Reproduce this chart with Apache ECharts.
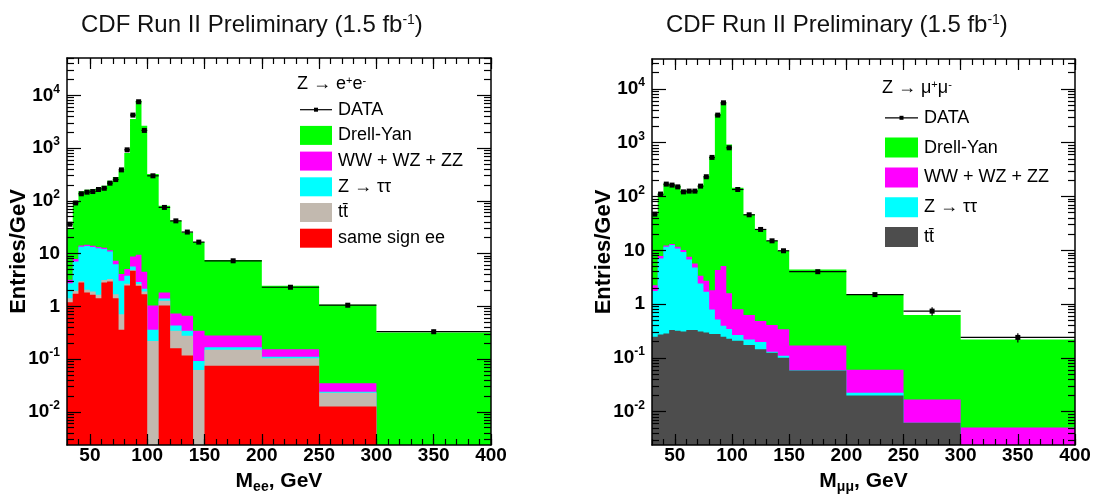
<!DOCTYPE html>
<html>
<head>
<meta charset="utf-8">
<title>CDF Run II Preliminary - Drell-Yan mass spectra</title>
<script src="https://cdn.jsdelivr.net/npm/echarts@6/dist/echarts.min.js"></script>
<style>
    html, body { margin: 0; padding: 0; background: #fff; }
    #chart { width: 1096px; height: 495px; }
</style>
</head>
<body>
<div id="chart"></div>
<script>
// bin edges (GeV), same binning for both channels
var binEdges = [30, 35, 40, 45, 50, 55, 60, 65, 70, 75, 80, 85, 90, 95, 100, 110, 120, 130, 140, 150, 200, 250, 300, 400];

// Z -> ee  (Entries/GeV)
var eeData      = [36, 91, 136, 146, 150, 164, 173, 216, 253, 386, 926, 4220, 7550, 2160, 298, 75, 41.7, 25.6, 16.5, 7.3, 2.3, 1.05, 0.33];
var eeDataErr   = [1.5, 2, 2.5, 2.5, 2.5, 2.6, 2.6, 3, 3.2, 4, 6, 13, 17, 9, 2, 1, 0.9, 0.7, 0.6, 0.17, 0.1, 0.07, 0.03];
var eeDrellYan  = [27.3, 90, 137, 147, 151, 160, 180, 228, 275, 369, 802, 3550, 7910, 2655, 321, 79, 41, 24.3, 16.2, 7.3, 2.3, 1.035, 0.318];
var eeDiboson   = [0.43, 0.8, 0.8, 0.8, 0.8, 0.8, 0.7, 0.6, 1.0, 1.05, 1.3, 3.1, 6.6, 2.35, 0.68, 0.43, 0.298, 0.317, 0.251, 0.112, 0.043, 0.0108, 0];
var eeZtautau   = [1.32, 5.1, 10.5, 11.8, 11.4, 10.9, 9.1, 7.7, 4.6, 2.34, 1.13, 0.85, 0.25, 0.25, 0.14, 0.13, 0.089, 0.066, 0.03, 0.018, 0.007, 0.001, 0];
var eeTtbar     = [0.23, 0.24, 0.17, 0.23, 0.26, 0.22, 0.31, 0.33, 0.27, 0.35, 0.19, 0.15, 0.2, 0.2, 0.22, 0.23, 0.182, 0.16, 0.062, 0.075, 0.029, 0.0105, 0];
var eeSameSign  = [1.2, 1.73, 2.83, 1.83, 1.65, 1.43, 2.83, 2.96, 1.43, 0.36, 2.48, 4.7, 2.45, 1.7, 0, 1.04, 0.161, 0.117, 0, 0.075, 0.075, 0.0126, 0];

// Z -> mumu  (Entries/GeV)
var mmData      = [47, 111, 170, 163, 151, 122, 126, 126, 156, 233, 533, 3260, 5520, 805, 135, 45.7, 24.4, 15, 9.8, 4.0, 1.5, 0.74, 0.24];
var mmDataErr   = [1.7, 2.5, 3, 3, 3, 2.7, 2.7, 2.7, 3, 3.7, 6, 14, 18, 7, 2, 1.1, 0.8, 0.65, 0.5, 0.15, 0.08, 0.13, 0.047];
var mmDrellYan  = [42.75, 103, 160, 157, 148, 118, 123, 125, 157, 230, 548, 3396, 5595, 928, 144, 46.4, 23.7, 14.6, 9.36, 4.23, 1.47, 0.608, 0.215];
var mmDiboson   = [0.5, 0.73, 0.7, 0.6, 0.8, 0.8, 0.83, 0.9, 0.94, 1.02, 1.02, 3.8, 4.7, 1.24, 0.535, 0.405, 0.286, 0.277, 0.229, 0.111, 0.0375, 0.0107, 0.0051];
var mmZtautau   = [1.5, 6.8, 11.3, 12.2, 10.5, 9.0, 6.44, 4.47, 2.11, 1.39, 0.52, 0.24, 0.15, 0.117, 0.057, 0.047, 0.053, 0.006, 0.01, 0.001, 0.0025, 0, 0];
var mmTtbar     = [0.247, 0.273, 0.285, 0.329, 0.32, 0.31, 0.329, 0.329, 0.31, 0.297, 0.277, 0.277, 0.247, 0.226, 0.208, 0.173, 0.144, 0.124, 0.1, 0.058, 0.02, 0.0062, 0];

// axis ticks / labels
var xTickLabels = [50, 100, 150, 200, 250, 300, 350, 400];
var yTickLabels = [0.01, 0.1, 1, 10, 100, 1000, 10000];

// legends
var eeLegendHeader = 'Z \u2192 e{s|+}e{s|-}';
var mmLegendHeader = 'Z \u2192 \u03bc{s|+}\u03bc{s|-}';
var eeLegendNames = ['Drell-Yan', 'WW + WZ + ZZ', 'Z \u2192 \u03c4\u03c4', 'tt\u0304', 'same sign ee'];
var mmLegendNames = ['Drell-Yan', 'WW + WZ + ZZ', 'Z \u2192 \u03c4\u03c4', 'tt\u0304'];

var FONT = '"Liberation Sans", Arial, Helvetica, sans-serif';
var COL_DY = '#00ff00', COL_VV = '#ff00ff', COL_TT = '#00ffff';
var COL_TOP_EE = '#c2b9af', COL_TOP_MM = '#4d4d4d', COL_SS = '#ff0000';

var X_MIN = 30, X_MAX = 400;
var EE_YMIN = 0.00235, EE_YMAX = 51000;
var MM_YMIN = 0.0024, MM_YMAX = 36000;

function addArr(a, b) {
    return a.map(function (v, i) { return v + b[i]; });
}

// minor log ticks 2..9 x 10^n
function minorLogTicks(lo, hi) {
    var out = [];
    for (var e = -4; e <= 5; e++) {
        for (var k = 2; k <= 9; k++) {
            var v = k * Math.pow(10, e);
            if (v > lo && v < hi) out.push(v);
        }
    }
    return out;
}

function logLabel(v) {
    var e = Math.round(Math.log(v) / Math.LN10);
    if (e === 0) return '{b|1}';
    if (e === 1) return '{b|10}';
    return '{b|10}{s|' + e + '}';
}

var labelRich = {
    b: { fontFamily: FONT, fontWeight: 'bold', fontSize: 19, color: '#000', lineHeight: 24 },
    s: { fontFamily: FONT, fontWeight: 'bold', fontSize: 12, color: '#000', lineHeight: 12, verticalAlign: 'top' }
};

function xAxesFor(gMain, gMinor, name) {
    var line = { show: true, onZero: false, lineStyle: { color: '#000', width: 1.5 } };
    return [
        {
            type: 'value', gridIndex: gMain, position: 'bottom', min: X_MIN, max: X_MAX, z: 10,
            axisLine: line,
            axisTick: { inside: true, length: 11, customValues: xTickLabels, lineStyle: { color: '#000', width: 1.2 } },
            axisLabel: { customValues: xTickLabels, margin: 1, color: '#000', fontSize: 19, fontWeight: 'bold', fontFamily: FONT },
            splitLine: { show: false },
            name: name, nameLocation: 'middle', nameGap: 23, nameMoveOverlap: false,
            nameTextStyle: {
                fontFamily: FONT, fontWeight: 'bold', fontSize: 21, color: '#000',
                rich: {
                    b: { fontFamily: FONT, fontWeight: 'bold', fontSize: 21, color: '#000', lineHeight: 26 },
                    sub: { fontFamily: FONT, fontWeight: 'bold', fontSize: 14, color: '#000', verticalAlign: 'bottom', lineHeight: 18 }
                }
            }
        },
        {
            type: 'value', gridIndex: gMain, position: 'top', min: X_MIN, max: X_MAX, z: 10,
            axisLine: line,
            axisTick: { inside: true, length: 11, customValues: xTickLabels, lineStyle: { color: '#000', width: 1.2 } },
            axisLabel: { show: false }, splitLine: { show: false }
        },
        {
            type: 'value', gridIndex: gMinor, position: 'bottom', min: X_MIN, max: X_MAX, interval: 10, z: 10,
            axisLine: { show: false },
            axisTick: { inside: true, length: 6, lineStyle: { color: '#000', width: 1.2 } },
            axisLabel: { show: false }, splitLine: { show: false }
        },
        {
            type: 'value', gridIndex: gMinor, position: 'top', min: X_MIN, max: X_MAX, interval: 10, z: 10,
            axisLine: { show: false },
            axisTick: { inside: true, length: 6, lineStyle: { color: '#000', width: 1.2 } },
            axisLabel: { show: false }, splitLine: { show: false }
        }
    ];
}

function yAxesFor(gMain, gMinor, lo, hi) {
    var line = { show: true, onZero: false, lineStyle: { color: '#000', width: 1.5 } };
    var minors = minorLogTicks(lo, hi);
    return [
        {
            type: 'log', gridIndex: gMain, position: 'left', min: lo, max: hi, z: 10,
            axisLine: line,
            axisTick: { inside: true, length: 14, customValues: yTickLabels, lineStyle: { color: '#000', width: 1.2 } },
            axisLabel: { customValues: yTickLabels, margin: 7, formatter: logLabel, rich: labelRich },
            splitLine: { show: false },
            name: 'Entries/GeV', nameLocation: 'middle', nameGap: 37, nameMoveOverlap: false,
            nameTextStyle: { fontFamily: FONT, fontWeight: 'bold', fontSize: 22, color: '#000' }
        },
        {
            type: 'log', gridIndex: gMain, position: 'right', min: lo, max: hi, z: 10,
            axisLine: line,
            axisTick: { inside: true, length: 14, customValues: yTickLabels, lineStyle: { color: '#000', width: 1.2 } },
            axisLabel: { show: false }, splitLine: { show: false }
        },
        {
            type: 'log', gridIndex: gMinor, position: 'left', min: lo, max: hi, z: 10,
            axisLine: { show: false },
            axisTick: { inside: true, length: 7, customValues: minors, lineStyle: { color: '#000', width: 1.2 } },
            axisLabel: { show: false }, splitLine: { show: false }
        },
        {
            type: 'log', gridIndex: gMinor, position: 'right', min: lo, max: hi, z: 10,
            axisLine: { show: false },
            axisTick: { inside: true, length: 7, customValues: minors, lineStyle: { color: '#000', width: 1.2 } },
            axisLabel: { show: false }, splitLine: { show: false }
        }
    ];
}

// filled cumulative histogram, drawn from the bottom of the axis like ROOT does
function layerSeries(axisIdx, cum, color, yMin, z) {
    return {
        type: 'custom', xAxisIndex: axisIdx, yAxisIndex: axisIdx, z: z, silent: true,
        data: [[binEdges[0], yMin]],
        renderItem: function (params, api) {
            var n = binEdges.length - 1;
            var pts = [api.coord([binEdges[0], yMin])];
            for (var i = 0; i < n; i++) {
                var v = Math.max(cum[i], yMin);
                pts.push(api.coord([binEdges[i], v]));
                pts.push(api.coord([binEdges[i + 1], v]));
            }
            pts.push(api.coord([binEdges[n], yMin]));
            return { type: 'polygon', shape: { points: pts }, style: { fill: color, stroke: null } };
        }
    };
}

function dataSeries(axisIdx, vals, errs, yMin) {
    var items = vals.map(function (v, i) {
        return [(binEdges[i] + binEdges[i + 1]) / 2, v, errs[i], binEdges[i], binEdges[i + 1]];
    });
    return {
        type: 'custom', xAxisIndex: axisIdx, yAxisIndex: axisIdx, z: 8, silent: true,
        data: items,
        renderItem: function (params, api) {
            var xc = api.value(0), v = api.value(1), e = api.value(2);
            var p = api.coord([xc, v]);
            var pl = api.coord([api.value(3), v]);
            var pr = api.coord([api.value(4), v]);
            var pt = api.coord([xc, v + e]);
            var pb = api.coord([xc, Math.max(v - e, yMin)]);
            return {
                type: 'group',
                children: [
                    { type: 'line', shape: { x1: pl[0], y1: p[1], x2: pr[0], y2: p[1] }, style: { stroke: '#000', lineWidth: 1.2 } },
                    { type: 'line', shape: { x1: p[0], y1: pt[1], x2: p[0], y2: pb[1] }, style: { stroke: '#000', lineWidth: 1.2 } },
                    { type: 'rect', shape: { x: p[0] - 2.5, y: p[1] - 2.5, width: 5, height: 5 }, style: { fill: '#000' } }
                ]
            };
        }
    };
}

function legendGraphics(x, y, pitch, boxW, boxH, fontSize, header, names, colors) {
    var txt = function (t, tx, ty, rich) {
        return {
            type: 'text', x: tx, y: ty, z: 20, silent: true,
            style: {
                text: t, fill: '#000', font: fontSize + 'px ' + FONT,
                textAlign: 'left', textVerticalAlign: 'middle',
                rich: rich
            }
        };
    };
    var els = [];
    els.push(txt(header, x - 3, y, {
        s: { fontSize: Math.round(fontSize * 0.62), fontFamily: FONT, fill: '#000', verticalAlign: 'top', lineHeight: 10 }
    }));
    var tx = x + boxW + 6;
    // DATA entry
    var yd = y + pitch;
    els.push({ type: 'line', z: 20, silent: true, shape: { x1: x, y1: yd, x2: x + boxW, y2: yd }, style: { stroke: '#000', lineWidth: 1.2 } });
    els.push({ type: 'rect', z: 20, silent: true, shape: { x: x + boxW / 2 - 2, y: yd - 2, width: 4, height: 4 }, style: { fill: '#000' } });
    els.push(txt('DATA', tx, yd));
    names.forEach(function (nm, i) {
        var yc = y + pitch * (i + 2);
        els.push({ type: 'rect', z: 20, silent: true, shape: { x: x, y: yc - boxH / 2, width: boxW, height: boxH }, style: { fill: colors[i] } });
        els.push(txt(nm, tx, yc));
    });
    return els;
}

// cumulative stacks
var eeC1 = eeSameSign.slice();
var eeC2 = addArr(eeC1, eeTtbar);
var eeC3 = addArr(eeC2, eeZtautau);
var eeC4 = addArr(eeC3, eeDiboson);
var eeC5 = addArr(eeC4, eeDrellYan);

var mmC2 = mmTtbar.slice();
var mmC3 = addArr(mmC2, mmZtautau);
var mmC4 = addArr(mmC3, mmDiboson);
var mmC5 = addArr(mmC4, mmDrellYan);

var chart = echarts.init(document.getElementById('chart'));

var titleRich = { s: { fontFamily: FONT, fontSize: 14, color: '#111', verticalAlign: 'top', lineHeight: 13 } };

var option = {
    backgroundColor: '#fff',
    animation: false,
    title: [
        { text: 'CDF Run II Preliminary (1.5 fb{s|-1})', left: 81, top: 13, padding: 0,
          textStyle: { fontFamily: FONT, fontWeight: 'normal', fontSize: 24, color: '#111', rich: titleRich } },
        { text: 'CDF Run II Preliminary (1.5 fb{s|-1})', left: 666, top: 13, padding: 0,
          textStyle: { fontFamily: FONT, fontWeight: 'normal', fontSize: 24, color: '#111', rich: titleRich } }
    ],
    grid: [
        { left: 67, top: 58, width: 424, height: 387, outerBoundsMode: 'none', containLabel: false },
        { left: 67, top: 58, width: 424, height: 387, outerBoundsMode: 'none', containLabel: false },
        { left: 652, top: 59, width: 423, height: 386, outerBoundsMode: 'none', containLabel: false },
        { left: 652, top: 59, width: 423, height: 386, outerBoundsMode: 'none', containLabel: false }
    ],
    xAxis: xAxesFor(0, 1, '{b|M}{sub|ee}{b|, GeV}').concat(xAxesFor(2, 3, '{b|M}{sub|\u03bc\u03bc}{b|, GeV}')),
    yAxis: yAxesFor(0, 1, EE_YMIN, EE_YMAX).concat(yAxesFor(2, 3, MM_YMIN, MM_YMAX)),
    series: [
        layerSeries(0, eeC5, COL_DY, EE_YMIN, 2),
        layerSeries(0, eeC4, COL_VV, EE_YMIN, 3),
        layerSeries(0, eeC3, COL_TT, EE_YMIN, 4),
        layerSeries(0, eeC2, COL_TOP_EE, EE_YMIN, 5),
        layerSeries(0, eeC1, COL_SS, EE_YMIN, 6),
        dataSeries(0, eeData, eeDataErr, EE_YMIN),

        layerSeries(4, mmC5, COL_DY, MM_YMIN, 2),
        layerSeries(4, mmC4, COL_VV, MM_YMIN, 3),
        layerSeries(4, mmC3, COL_TT, MM_YMIN, 4),
        layerSeries(4, mmC2, COL_TOP_MM, MM_YMIN, 5),
        dataSeries(4, mmData, mmDataErr, MM_YMIN)
    ],
    graphic: legendGraphics(300, 84, 25.7, 32, 19, 18, eeLegendHeader, eeLegendNames,
                            [COL_DY, COL_VV, COL_TT, COL_TOP_EE, COL_SS])
        .concat(legendGraphics(885, 88, 29.8, 33, 20, 18, mmLegendHeader, mmLegendNames,
                            [COL_DY, COL_VV, COL_TT, COL_TOP_MM]))
};

chart.setOption(option);
</script>
</body>
</html>
